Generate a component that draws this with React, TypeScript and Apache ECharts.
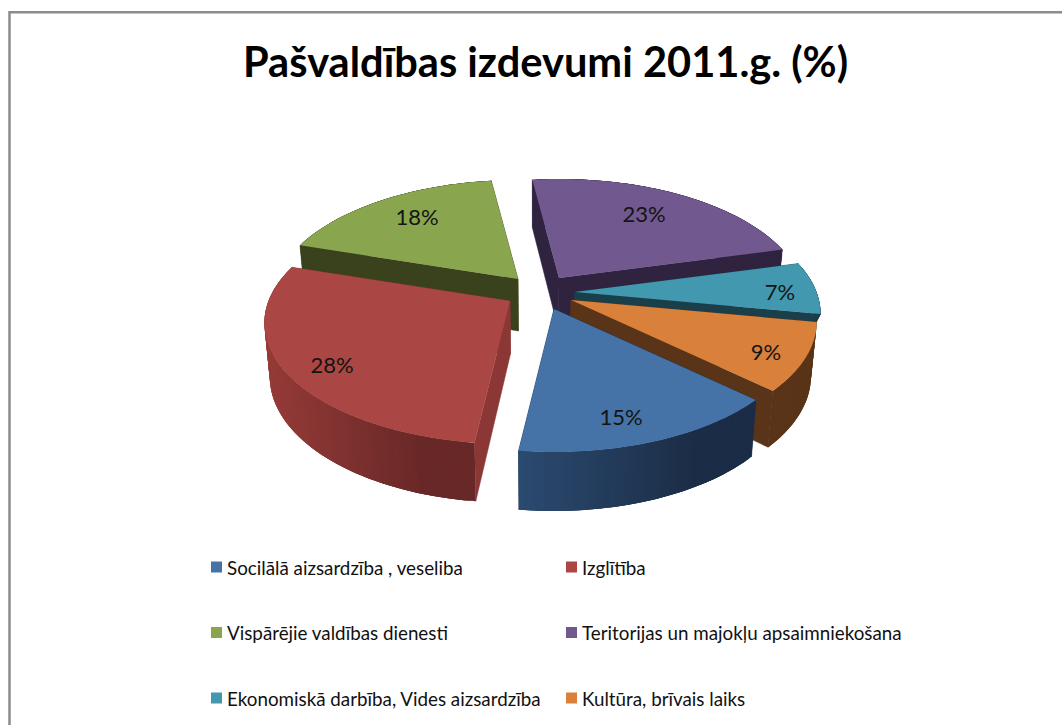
import React, { useEffect, useRef } from "react";
import * as echarts from "echarts";

const titleText = "Pašvaldības izdevumi 2011.g. (%)";
const categories = [
  "Socilālā aizsardzība , veseliba",
  "Izglītība",
  "Vispārējie valdības dienesti",
  "Teritorijas un majokļu apsaimniekošana",
  "Ekonomiskā darbība, Vides aizsardzība",
  "Kultūra, brīvais laiks",
];
const shares = [15, 28, 18, 23, 7, 9];
const shareLabels = ["15%", "28%", "18%", "23%", "7%", "9%"];

// presentation only
const topColors = ["#4572a7", "#aa4643", "#89a54e", "#71588f", "#4198af", "#d9803b"];
const radialWallColors = ["#1b2e47", "#8a3735", "#3a421d", "#2f2340", "#1a3f4b", "#5a3418"];
const outerWallStops = [
  ["#2b4a70", "#1b2d46"],
  ["#953b38", "#682827"],
  ["#3a421d", "#3a421d"],
  ["#2f2340", "#2f2340"],
  ["#1a3f4b", "#1a3f4b"],
  ["#5a3418", "#5a3418"],
];
const apexX = [554, 510, 518, 559, 575, 571];
const apexY = [309, 301, 279, 278, 292, 300];
const labelDX = [67, -178, -101, 85, 205, 195];
const labelDY = [107, 63, -63, -65, -1, 51];
const depthScale = [1, 1, 1, 1, 0.2, 1];
const drawOrder = [2, 3, 4, 5, 1, 0];
const START_DEG = 132.9;
const RX = 241.5;
const RY = 117;
const PERSPECTIVE = 0.182;

const total = shares.reduce((a, b) => a + b, 0);
const startAngles = shares.map(
  (_, i) => START_DEG + (shares.slice(0, i).reduce((a, b) => a + b, 0) / total) * 360
);

function rimPoint(i: number, deg: number): number[] {
  const t = (deg * Math.PI) / 180;
  const X = Math.sin(t);
  const Y = Math.cos(t);
  const w = 1 + PERSPECTIVE * Y;
  return [apexX[i] + (RX * X) / w, apexY[i] - (RY * Y) / w];
}
function lower(i: number, p: number[]): number[] {
  const depth = (48 + (p[1] - 180) * 0.04) * depthScale[i];
  return [p[0] + (535 - p[0]) * 0.02, p[1] + depth];
}

function renderSlice(i: number, value: number) {
  const sweep = (value / total) * 360;
  const from = startAngles[i];
  const rim: number[][] = [];
  const steps = Math.ceil(sweep);
  for (let s = 0; s <= steps; s++) rim.push(rimPoint(i, from + (sweep * s) / steps));
  const apex = [apexX[i], apexY[i]];
  const first = rim[0];
  const last = rim[rim.length - 1];
  const wallStyle = { fill: radialWallColors[i], stroke: radialWallColors[i], lineWidth: 0.5 };
  const stops = outerWallStops[i];
  const xs = rim.map((p) => p[0]);
  const minX = Math.min(...xs);
  const maxX = Math.max(...xs);
  const quads: any[] = [];
  // Each piece reaches over the next ones, so no white shows at the seams.
  for (let s = 0; s < steps; s++) {
    const a = rim[s];
    const b = rim[Math.min(steps, s + 3)];
    const mid = rim[s + 1];
    const f = Math.min(1, (((a[0] + mid[0]) / 2 - minX) / (maxX - minX || 1)) / 0.75);
    const c = echarts.color.lerp(f, stops);
    quads.push({
      type: "polygon",
      shape: {
        points: [a, mid, b, lower(i, b), lower(i, mid), lower(i, a)],
      },
      style: { fill: c },
    });
  }
  return {
    type: "group",
    children: [
      {
        type: "polygon",
        shape: { points: [apex, first, lower(i, first), lower(i, apex)] },
        style: wallStyle,
      },
      {
        type: "polygon",
        shape: { points: [apex, last, lower(i, last), lower(i, apex)] },
        style: wallStyle,
      },
      ...quads,
      {
        type: "polygon",
        shape: { points: [apex, ...rim] },
        style: { fill: topColors[i] },
      },
      {
        type: "text",
        x: apexX[i] + labelDX[i],
        y: apexY[i] + labelDY[i],
        style: {
          text: shareLabels[i],
          fill: "#141414",
          font: "22px Lato",
          align: "center",
          verticalAlign: "middle",
        },
      },
    ],
  };
}

export default function App() {
  const ref = useRef<HTMLDivElement>(null);
  useEffect(() => {
    const chart = echarts.init(ref.current!, undefined, { renderer: "svg" });
    const legendBase = {
      orient: "vertical",
      icon: "rect",
      itemWidth: 11,
      itemHeight: 11,
      itemGap: 46.5,
      top: 557.5,
      padding: 0,
      textStyle: { fontFamily: "Lato", fontSize: 18.8, color: "#111" },
    };
    chart.setOption({
      animation: false,
      backgroundColor: "#ffffff",
      color: topColors,
      title: {
        text: titleText,
        left: 243,
        top: 40,
        padding: 0,
        textStyle: { fontFamily: "Lato", fontWeight: "bold", fontSize: 41.6, color: "#000" },
      },
      graphic: [
        {
          type: "rect",
          z: -10,
          shape: { x: 9.5, y: 12.25, width: 1200, height: 900 },
          style: { fill: "none", stroke: "#8c8c8c", lineWidth: 2.5 },
        },
      ],
      legend: [
        { ...legendBase, left: 211, data: [categories[0], categories[2], categories[4]] },
        { ...legendBase, left: 566, data: [categories[1], categories[3], categories[5]] },
      ],
      series: drawOrder.map((i, order) => ({
        type: "custom",
        name: categories[i],
        coordinateSystem: "none",
        z: 2 + order,
        silent: true,
        itemStyle: { color: topColors[i] },
        data: [[shares[i]]],
        renderItem: (_p: any, api: any) => renderSlice(i, api.value(0)),
      })),
    });
    return () => chart.dispose();
  }, []);
  return (
    <div
      ref={ref}
      style={{ position: "fixed", left: 0, top: 0, width: 1062, height: 725 }}
    />
  );
}
